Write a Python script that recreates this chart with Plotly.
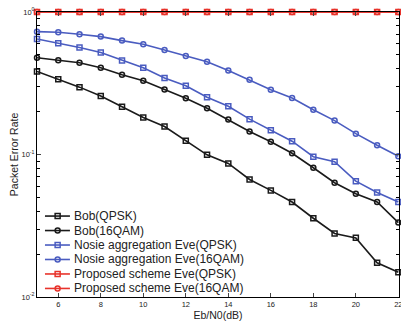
import plotly.graph_objects as go

ebn0 = list(range(5, 23))
bob_qpsk = [0.383, 0.338, 0.297, 0.257, 0.216, 0.182, 0.157, 0.125, 0.0995, 0.0865,
            0.0668, 0.056, 0.0464, 0.0357, 0.0279, 0.026, 0.0174, 0.0149]
bob_16qam = [0.477, 0.459, 0.44, 0.406, 0.363, 0.329, 0.286, 0.248, 0.211, 0.176,
             0.145, 0.123, 0.102, 0.0807, 0.0634, 0.0531, 0.0464, 0.0333]
eve_na_qpsk = [0.647, 0.604, 0.563, 0.52, 0.457, 0.406, 0.344, 0.304, 0.252, 0.218,
               0.177, 0.148, 0.124, 0.0964, 0.0889, 0.065, 0.0542, 0.0464]
eve_na_16qam = [0.728, 0.721, 0.698, 0.672, 0.63, 0.594, 0.542, 0.492, 0.447, 0.389,
                0.335, 0.285, 0.249, 0.206, 0.173, 0.14, 0.116, 0.0973]
eve_prop_qpsk = [1.0] * 18
eve_prop_16qam = [1.0] * 18

names = ["Bob(QPSK)", "Bob(16QAM)", "Nosie aggregation Eve(QPSK)",
         "Nosie aggregation Eve(16QAM)", "Proposed scheme Eve(QPSK)",
         "Proposed scheme Eve(16QAM)"]
series = [bob_qpsk, bob_16qam, eve_na_qpsk, eve_na_16qam, eve_prop_qpsk, eve_prop_16qam]
colors = ["#1a1a1a", "#1a1a1a", "#4a5cc0", "#4a5cc0", "#e8332b", "#e8332b"]
symbols = ["square-open", "circle-open"] * 3

x_ticks = list(range(6, 23, 2))
y_major = [0.01, 0.1, 1]
y_major_text = ["10<sup>-2</sup>", "10<sup>-1</sup>", "10<sup>0</sup>"]
y_minor = [m * 10 ** e for e in (-2, -1) for m in range(2, 10)]

fig = go.Figure()
for name, ys, c, s in zip(names, series, colors, symbols):
    fig.add_trace(go.Scatter(
        x=ebn0, y=ys, name=name, mode="lines+markers",
        line=dict(color=c, width=1.6),
        marker=dict(symbol=s, size=5, color=c, line=dict(width=1.5, color=c)),
        cliponaxis=False, showlegend=False,
    ))

# compact legend (drawn on a hidden overlay axis in plot-fraction units)
leg_top, leg_step = 0.284, 0.0508
for i, (name, c, s) in enumerate(zip(names, colors, symbols)):
    yy = leg_top - i * leg_step
    fig.add_trace(go.Scatter(
        x=[0.022, 0.057, 0.091], y=[yy] * 3, mode="lines", xaxis="x2", yaxis="y2",
        line=dict(color=c, width=1.6), showlegend=False, hoverinfo="skip",
    ))
    fig.add_trace(go.Scatter(
        x=[0.057], y=[yy], mode="markers", xaxis="x2", yaxis="y2",
        marker=dict(symbol=s, size=5, color=c, line=dict(width=1.5, color=c)),
        showlegend=False, hoverinfo="skip",
    ))
    fig.add_annotation(x=0.097, y=yy, xref="x2", yref="y2", text=name,
                       showarrow=False, xanchor="left", yanchor="middle",
                       font=dict(size=12, color="#222222"))

fig.update_layout(
    width=401, height=322,
    margin=dict(l=37, r=2, t=12, b=25),
    plot_bgcolor="white", paper_bgcolor="white",
    font=dict(family="Liberation Sans, Arial, sans-serif", color="#222222"),
    showlegend=False,
    xaxis2=dict(overlaying="x", range=[0, 1], visible=False, fixedrange=True),
    yaxis2=dict(overlaying="y", range=[0, 1], visible=False, fixedrange=True),
)
fig.layout.xaxis.update(
    range=[5, 22.03], tickvals=x_ticks, ticks="inside", ticklen=4,
    showline=True, linecolor="black", linewidth=1, mirror="ticks",
    showgrid=False, zeroline=False, tickfont=dict(size=7.5), automargin=False,
    ticklabeloverflow="allow",
    title=dict(text="Eb/N0(dB)", font=dict(size=10.5), standoff=0),
)
fig.layout.yaxis.update(
    type="log", range=[-2, 0], tickvals=y_major, ticktext=y_major_text,
    ticks="inside", ticklen=4,
    showline=True, linecolor="black", linewidth=1, mirror="ticks",
    showgrid=False, zeroline=False, tickfont=dict(size=7.5), automargin=False,
    minor=dict(tickvals=y_minor, ticks="inside", ticklen=3, tickcolor="black"),
    title=dict(text="Packet Error Rate", font=dict(size=10.5), standoff=0),
)
fig.write_html("out.html")
